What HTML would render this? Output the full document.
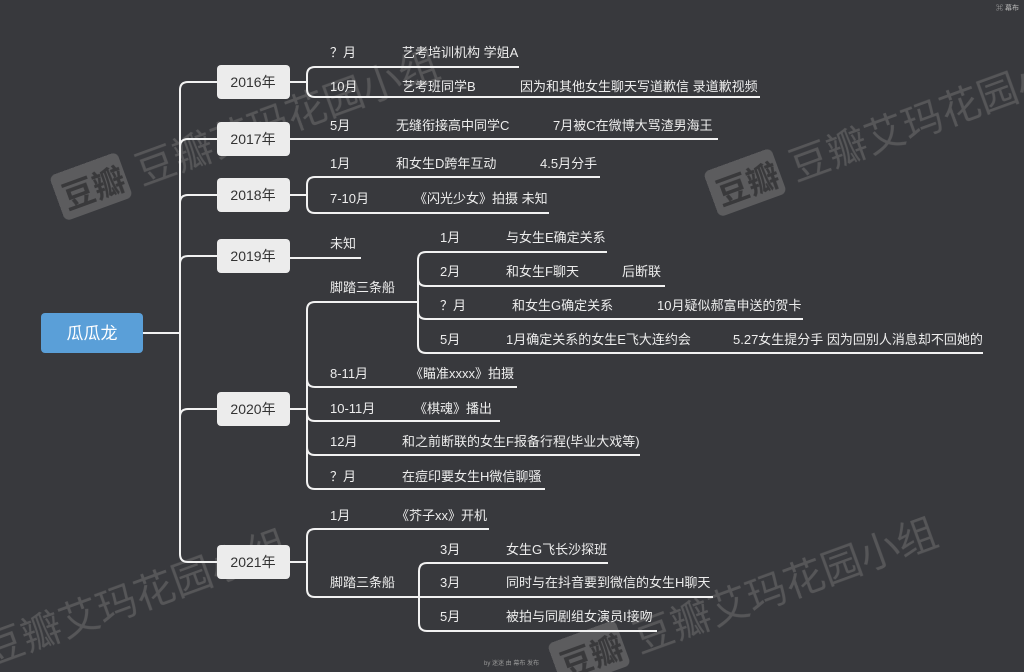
<!DOCTYPE html>
<html><head><meta charset="utf-8"><style>
html,body{margin:0;padding:0;background:#38393d;}
svg{display:block}
text{font-family:"Liberation Sans","Noto Sans CJK SC",sans-serif;}
</style></head><body>
<svg width="1024" height="672" viewBox="0 0 1024 672" xmlns="http://www.w3.org/2000/svg">
<rect width="1024" height="672" fill="#38393d"/>
<!-- watermarks -->
<g opacity="0.45">
  <g transform="translate(62,212) rotate(-20)">
    <rect x="0" y="-38" width="72" height="48" rx="6" fill="#8a8a8a"/>
    <text x="6" y="0" font-size="32" fill="#3a3a3a" font-weight="bold">豆瓣</text>
    <text x="84" y="2" font-size="40" fill="#7c7c7c">豆瓣艾玛花园小组</text>
  </g>
  <g transform="translate(716,208) rotate(-20)">
    <rect x="0" y="-38" width="72" height="48" rx="6" fill="#8a8a8a"/>
    <text x="6" y="0" font-size="32" fill="#3a3a3a" font-weight="bold">豆瓣</text>
    <text x="84" y="2" font-size="40" fill="#7c7c7c">豆瓣艾玛花园小组</text>
  </g>
  <g transform="translate(-10,665) rotate(-20)">
    <text x="0" y="0" font-size="40" fill="#7c7c7c">豆瓣艾玛花园小组</text>
  </g>
  <g transform="translate(560,680) rotate(-20)">
    <rect x="0" y="-38" width="72" height="48" rx="6" fill="#8a8a8a"/>
    <text x="6" y="0" font-size="32" fill="#3a3a3a" font-weight="bold">豆瓣</text>
    <text x="84" y="2" font-size="40" fill="#7c7c7c">豆瓣艾玛花园小组</text>
  </g>
</g>

<g fill="none" stroke="#f2f2f2" stroke-width="2">
  <path d="M143 333 H180"/>
  <path d="M188 82 Q180 82 180 90 V554 Q180 562 188 562"/>
  <path d="M188 82 H217"/><path d="M188 562 H217"/>
  <path d="M180 147 Q180 139 188 139 H718"/>
  <path d="M180 203 Q180 195 188 195 H217"/>
  <path d="M180 264 Q180 256 188 256 H217"/>
  <path d="M180 417 Q180 409 188 409 H217"/>
  <!-- 2016 -->
  <path d="M290 82 H307"/>
  <path d="M519 67 H315 Q307 67 307 75 V89 Q307 97 315 97 H760"/>
  <!-- 2018 -->
  <path d="M290 195 H307"/>
  <path d="M600 177 H315 Q307 177 307 185 V205 Q307 213 315 213 H549"/>
  <!-- 2019 -->
  <path d="M290 258 H361"/>
  <!-- 2020 -->
  <path d="M290 409 H307"/>
  <path d="M418 302 H315 Q307 302 307 310 V481 Q307 489 315 489 H545"/>
  <path d="M307 379 Q307 387 315 387 H517"/>
  <path d="M307 413 Q307 421 315 421 H500"/>
  <path d="M307 447 Q307 455 315 455 H640"/>
  <path d="M607 252 H426 Q418 252 418 260 V345 Q418 353 426 353 H983"/>
  <path d="M418 278 Q418 286 426 286 H665"/>
  <path d="M418 311 Q418 319 426 319 H803"/>
  <!-- 2021 -->
  <path d="M290 562 H307"/>
  <path d="M489 529 H315 Q307 529 307 537 V589 Q307 597 315 597 H713"/>
  <path d="M608 563 H427 Q419 563 419 571 V623 Q419 631 427 631 H657"/>
</g>

<rect x="41" y="313" width="102" height="40" rx="4" fill="#5a9fd8"/>
<text x="92" y="339" font-size="17" fill="#fff" text-anchor="middle">瓜瓜龙</text>

<g fill="#ececec">
  <rect x="217" y="65" width="73" height="34" rx="4"/>
  <rect x="217" y="122" width="73" height="34" rx="4"/>
  <rect x="217" y="178" width="73" height="34" rx="4"/>
  <rect x="217" y="239" width="73" height="34" rx="4"/>
  <rect x="217" y="392" width="73" height="34" rx="4"/>
  <rect x="217" y="545" width="73" height="34" rx="4"/>
</g>
<g font-size="14" fill="#333" text-anchor="middle">
  <text x="253" y="87">2016年</text>
  <text x="253" y="144">2017年</text>
  <text x="253" y="200">2018年</text>
  <text x="253" y="261">2019年</text>
  <text x="253" y="414">2020年</text>
  <text x="253" y="567">2021年</text>
</g>

<g font-size="13" fill="#ededed">
  <text x="330" y="57">？月</text><text x="402" y="57">艺考培训机构 学姐A</text>
  <text x="330" y="91">10月</text><text x="402" y="91">艺考班同学B</text><text x="520" y="91">因为和其他女生聊天写道歉信 录道歉视频</text>
  <text x="330" y="130">5月</text><text x="396" y="130">无缝衔接高中同学C</text><text x="553" y="130">7月被C在微博大骂渣男海王</text>
  <text x="330" y="168">1月</text><text x="396" y="168">和女生D跨年互动</text><text x="540" y="168">4.5月分手</text>
  <text x="330" y="203">7-10月</text><text x="414" y="203">《闪光少女》拍摄 未知</text>
  <text x="330" y="248">未知</text>
  <text x="330" y="292">脚踏三条船</text>
  <text x="440" y="242">1月</text><text x="506" y="242">与女生E确定关系</text>
  <text x="440" y="276">2月</text><text x="506" y="276">和女生F聊天</text><text x="622" y="276">后断联</text>
  <text x="440" y="310">？月</text><text x="512" y="310">和女生G确定关系</text><text x="657" y="310">10月疑似郝富申送的贺卡</text>
  <text x="440" y="344">5月</text><text x="506" y="344">1月确定关系的女生E飞大连约会</text><text x="733" y="344">5.27女生提分手 因为回别人消息却不回她的</text>
  <text x="330" y="378">8-11月</text><text x="410" y="378">《瞄准xxxx》拍摄</text>
  <text x="330" y="413">10-11月</text><text x="414" y="413">《棋魂》播出</text>
  <text x="330" y="446">12月</text><text x="402" y="446">和之前断联的女生F报备行程(毕业大戏等)</text>
  <text x="330" y="481">？月</text><text x="402" y="481">在痘印要女生H微信聊骚</text>
  <text x="330" y="520">1月</text><text x="396" y="520">《芥子xx》开机</text>
  <text x="330" y="587">脚踏三条船</text>
  <text x="440" y="554">3月</text><text x="506" y="554">女生G飞长沙探班</text>
  <text x="440" y="587">3月</text><text x="506" y="587">同时与在抖音要到微信的女生H聊天</text>
  <text x="440" y="621">5月</text><text x="506" y="621">被拍与同剧组女演员I接吻</text>
</g>
<text x="484" y="665" font-size="6" fill="#999">by 迷迷 由 幕布 发布</text>
<text x="996" y="10" font-size="7" fill="#bbb">⌘ 幕布</text>
</svg>
</body></html>
